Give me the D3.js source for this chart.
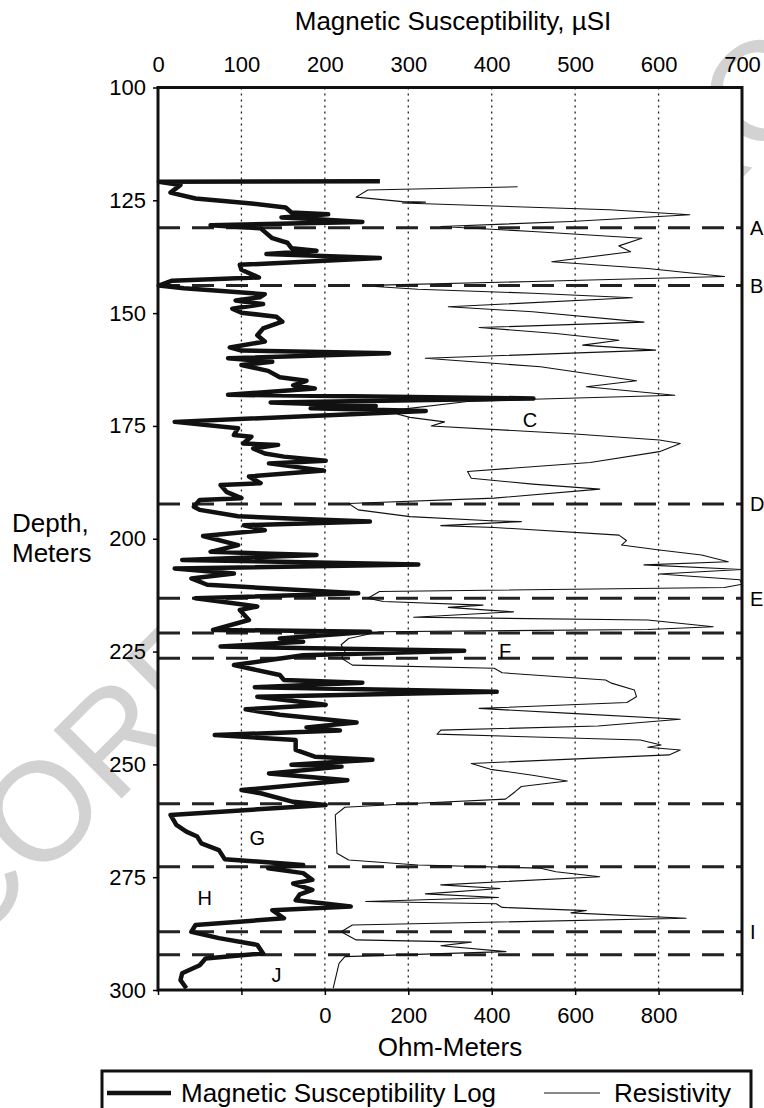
<!DOCTYPE html>
<html>
<head>
<meta charset="utf-8">
<script src="https://cdn.jsdelivr.net/npm/d3@7"></script>
<style>
  body { margin: 0; background: #fff; }
  svg { display: block; font-family: "Liberation Sans", Arial, sans-serif; }
</style>
</head>
<body>
<script>
// Borehole log: magnetic susceptibility (top scale) and resistivity (bottom scale) vs depth

// magnetic susceptibility log, uSI
const msDepth = [120.8,120.9,121.6,123.3,124.6,125.7,126.6,127.7,128.1,128.8,129.2,129.8,130.5,131.2,132.0,133.4,134.4,135.6,136.2,136.9,137.8,139.3,140.4,142.1,142.8,143.9,144.5,145.8,146.5,147.2,148.0,149.0,149.9,150.8,151.9,153.4,154.9,156.3,157.6,158.3,158.9,160.0,160.8,161.5,162.8,164.2,165.0,166.0,166.7,168.1,168.9,169.8,170.6,171.1,171.7,174.1,175.5,177.0,177.4,178.9,179.2,180.0,181.1,181.8,182.7,183.3,184.9,186.2,187.7,188.1,189.6,191.0,191.4,192.9,193.6,195.0,195.5,196.2,197.0,198.1,199.4,201.4,202.9,203.6,204.7,205.7,206.6,207.7,208.8,210.2,212.1,213.2,215.0,215.8,218.0,220.2,220.6,222.1,222.8,223.9,224.8,225.8,228.0,230.2,231.3,231.9,232.9,233.9,235.0,236.8,237.8,239.0,240.7,241.8,242.5,243.5,244.6,246.8,248.3,249.0,250.1,250.5,252.0,253.5,255.7,256.4,258.3,259.0,261.2,263.4,264.9,266.0,267.5,269.0,271.0,272.3,273.0,274.1,275.6,276.4,277.8,278.8,280.1,281.5,282.3,284.1,285.6,287.1,288.5,290.0,291.9,293.0,294.5,296.3,297.8,299.6];
const msValue = [266,1,27,15,45,112,153,160,204,148,192,245,63,123,128,137,155,160,190,130,266,98,100,121,17,1,31,128,122,93,126,89,100,142,149,126,119,128,86,100,277,84,137,100,132,146,178,162,188,84,450,135,261,183,321,20,96,91,112,102,144,114,128,151,201,133,199,109,123,75,82,100,50,43,50,96,158,254,103,128,54,96,63,190,29,312,20,91,40,59,240,45,119,98,109,66,254,146,174,75,367,174,91,146,151,245,116,406,119,201,105,146,238,178,218,68,165,165,188,257,160,220,133,227,100,123,162,201,15,22,34,47,52,73,80,174,132,174,185,162,185,170,165,231,137,151,45,40,73,119,126,57,50,29,27,34];

// resistivity log, ohm-m
const resDepth = [122.0,122.7,124.3,125.3,125.4,125.6,127.1,128.2,129.7,130.8,131.9,133.4,135.1,136.4,138.6,140.1,141.9,143.0,143.8,144.1,144.7,145.6,146.6,148.6,149.7,152.0,153.2,154.5,156.0,157.1,158.2,160.0,161.9,165.0,166.3,168.2,169.1,169.6,171.5,172.4,173.1,174.1,175.0,176.8,178.1,178.9,180.7,183.1,185.1,186.6,187.9,189.0,191.0,192.2,193.6,195.1,196.0,196.2,197.1,197.5,199.2,200.4,201.4,202.5,203.6,205.1,205.8,206.8,207.8,209.1,210.1,210.8,211.7,213.2,213.9,214.7,215.2,216.2,217.4,218.0,219.5,220.1,220.6,222.1,223.5,225.0,226.5,228.0,228.7,229.7,231.3,232.0,233.5,235.0,236.3,237.6,238.7,240.0,241.5,242.4,243.3,244.6,245.7,246.2,246.8,247.9,249.8,251.1,252.4,253.7,254.9,256.0,257.7,258.6,259.5,261.2,269.7,271.2,272.3,273.0,273.8,274.9,276.7,277.5,278.7,279.5,280.4,280.9,281.7,282.4,282.9,284.1,285.6,287.1,288.9,289.4,290.2,291.5,292.6,294.1,299.6];
const resValue = [462,103,75,186,241,186,682,875,590,278,498,760,705,733,544,774,958,498,131,121,223,498,737,296,498,765,370,554,705,618,793,241,517,747,627,839,498,342,167,175,204,287,255,600,802,852,802,636,342,351,498,659,406,57,80,204,397,471,278,406,705,723,711,802,903,967,765,999,802,995,1000,958,131,103,140,379,296,452,213,774,931,774,131,57,39,48,40,66,406,425,673,687,742,747,724,370,590,852,655,278,269,756,806,774,852,825,351,397,498,581,471,457,433,223,48,25,29,57,223,517,554,659,278,420,241,416,98,411,425,627,590,866,66,39,75,351,278,434,48,34,20];

// unit boundaries (dashed) and their labels
const boundaryDepths = [131.1, 143.9, 192.3, 213.2, 220.9, 226.5, 258.7, 272.7, 287.1, 292.2];
const sideNames = ['A', 'B', 'D', 'E', 'I'];
const sideDepths = [131.1, 143.9, 192.3, 213.2, 287.1];
const zoneNames = ['C', 'F', 'G', 'H', 'J'];
const zoneDepths = [173.7, 224.9, 266.3, 279.6, 296.7];
const zoneMs = [446, 416, 119, 56, 142];

// axis ticks
const msTicks = [0, 100, 200, 300, 400, 500, 600, 700];
const resTicks = [-400, -200, 0, 200, 400, 600, 800, 1000];
const depthTicks = [100, 125, 150, 175, 200, 225, 250, 275, 300];

const width = 764;
const height = 1108;
const margin = ({top: 87.5, right: 22, bottom: 118, left: 158});

const xScale = d3.scaleLinear().domain([0, 700]).range([margin.left, width - margin.right]);
const xRes = d3.scaleLinear().domain([-400, 1000]).range([margin.left, width - margin.right]);
const yScale = d3.scaleLinear().domain([100, 300]).range([margin.top, height - margin.bottom]);

const svg = d3.select('body')
  .append('svg')
  .attr('width', width)
  .attr('height', height);

// watermark behind everything, mostly hidden by the plot area
svg.append('text')
  .attr('transform', 'translate(-35,955) rotate(-45)')
  .attr('font-size', 140)
  .attr('fill', '#d2d2d2')
  .text('CORRECTED PROOF');

// white plot area covers the watermark
svg.append('rect')
  .attr('x', margin.left)
  .attr('y', margin.top)
  .attr('width', xScale(700) - margin.left)
  .attr('height', yScale(300) - margin.top)
  .attr('fill', '#fff');

// dotted grid
svg.append('g')
  .selectAll('line')
  .data(msTicks.slice(1, -1))
  .join('line')
  .attr('x1', d => xScale(d))
  .attr('x2', d => xScale(d))
  .attr('y1', yScale(100))
  .attr('y2', yScale(300))
  .attr('stroke', '#222')
  .attr('stroke-width', 1.3)
  .attr('stroke-dasharray', '2,4');

// boundary lines
svg.append('g')
  .selectAll('line')
  .data(boundaryDepths)
  .join('line')
  .attr('x1', xScale(0))
  .attr('x2', xScale(700))
  .attr('y1', d => yScale(d))
  .attr('y2', d => yScale(d))
  .attr('stroke', '#222')
  .attr('stroke-width', 3)
  .attr('stroke-dasharray', '22,12');

// resistivity
const resLine = d3.line()
  .x((d, i) => xRes(resValue[i]))
  .y(d => yScale(d));

svg.append('path')
  .attr('d', resLine(resDepth))
  .attr('fill', 'none')
  .attr('stroke', '#111')
  .attr('stroke-width', 1.1)
  .attr('stroke-linejoin', 'round');

// magnetic susceptibility
const msLine = d3.line()
  .x((d, i) => xScale(msValue[i]))
  .y(d => yScale(d));

svg.append('path')
  .attr('d', msLine(msDepth))
  .attr('fill', 'none')
  .attr('stroke', '#111')
  .attr('stroke-width', 4.5)
  .attr('stroke-linejoin', 'round');

// frame
svg.append('rect')
  .attr('x', margin.left)
  .attr('y', margin.top)
  .attr('width', xScale(700) - margin.left)
  .attr('height', yScale(300) - margin.top)
  .attr('fill', 'none')
  .attr('stroke', '#111')
  .attr('stroke-width', 3);

// Axes
const topAxis = d3.axisTop(xScale).tickValues(msTicks).tickSize(0).tickPadding(15.5);
svg.append('g')
  .attr('transform', `translate(0,${margin.top})`)
  .call(topAxis)
  .call(g => g.select('.domain').remove())
  .attr('font-size', 22)
  .attr('font-family', null);

const leftAxis = d3.axisLeft(yScale).tickValues(depthTicks).tickSize(5).tickPadding(7);
svg.append('g')
  .attr('transform', `translate(${margin.left},0)`)
  .call(leftAxis)
  .call(g => g.select('.domain').remove())
  .call(g => g.selectAll('line').attr('stroke-width', 1.5))
  .attr('font-size', 22)
  .attr('font-family', null);

const bottomAxis = d3.axisBottom(xRes).tickValues(resTicks).tickSize(5).tickPadding(12)
  .tickFormat(d => (d >= 0 && d < 1000) ? d : '');
svg.append('g')
  .attr('transform', `translate(0,${yScale(300)})`)
  .call(bottomAxis)
  .call(g => g.select('.domain').remove())
  .call(g => g.selectAll('line').attr('stroke-width', 1.5))
  .attr('font-size', 22)
  .attr('font-family', null);

// axis titles
svg.append('text')
  .attr('x', 453)
  .attr('y', 30)
  .attr('text-anchor', 'middle')
  .attr('font-size', 26)
  .text('Magnetic Susceptibility, \u00b5SI');

svg.append('text')
  .attr('x', 450)
  .attr('y', 1056)
  .attr('text-anchor', 'middle')
  .attr('font-size', 26)
  .text('Ohm-Meters');

svg.append('text')
  .attr('x', 12)
  .attr('y', 532)
  .attr('font-size', 26)
  .text('Depth,');
svg.append('text')
  .attr('x', 12)
  .attr('y', 562)
  .attr('font-size', 26)
  .text('Meters');

// unit labels
svg.append('g')
  .selectAll('text')
  .data(sideNames)
  .join('text')
  .attr('x', 750)
  .attr('y', (d, i) => yScale(sideDepths[i]))
  .attr('dy', '0.36em')
  .attr('font-size', 20)
  .text(d => d);

svg.append('g')
  .selectAll('text')
  .data(zoneNames)
  .join('text')
  .attr('x', (d, i) => xScale(zoneMs[i]))
  .attr('y', (d, i) => yScale(zoneDepths[i]))
  .attr('dy', '0.36em')
  .attr('text-anchor', 'middle')
  .attr('font-size', 20)
  .text(d => d);

// legend
const legend = svg.append('g');
legend.append('rect')
  .attr('x', 102)
  .attr('y', 1071)
  .attr('width', 649)
  .attr('height', 60)
  .attr('fill', '#fff')
  .attr('stroke', '#111')
  .attr('stroke-width', 3);
legend.append('line')
  .attr('x1', 107).attr('x2', 171)
  .attr('y1', 1093).attr('y2', 1093)
  .attr('stroke', '#111')
  .attr('stroke-width', 4.5);
legend.append('text')
  .attr('x', 181)
  .attr('y', 1102)
  .attr('font-size', 26)
  .text('Magnetic Susceptibility Log');
legend.append('line')
  .attr('x1', 544).attr('x2', 600)
  .attr('y1', 1093).attr('y2', 1093)
  .attr('stroke', '#111')
  .attr('stroke-width', 1.1);
legend.append('text')
  .attr('x', 614)
  .attr('y', 1102)
  .attr('font-size', 26)
  .text('Resistivity');
</script>
</body>
</html>
